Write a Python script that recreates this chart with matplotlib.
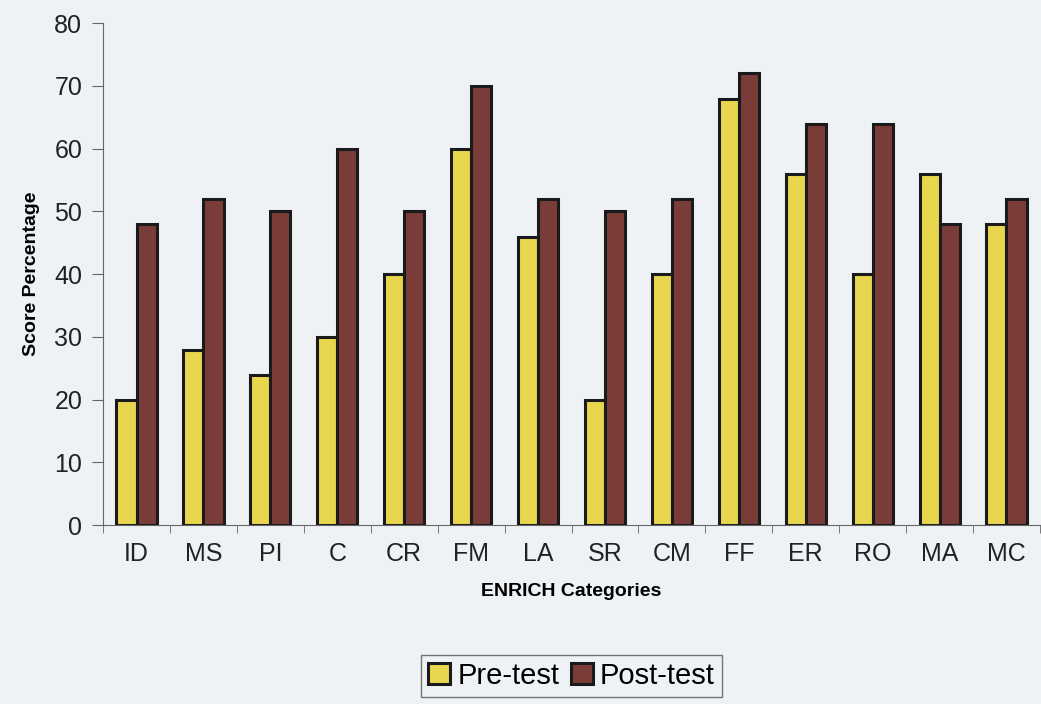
import matplotlib
matplotlib.use('Agg')
import matplotlib.pyplot as plt
import numpy as np

plt.rcParams['font.family'] = ['Liberation Sans', 'DejaVu Sans']

categories = ['ID', 'MS', 'PI', 'C', 'CR', 'FM', 'LA', 'SR', 'CM', 'FF', 'ER', 'RO', 'MA', 'MC']
pre_test = [20, 28, 24, 30, 40, 60, 46, 20, 40, 68, 56, 40, 56, 48]
post_test = [48, 52, 50, 60, 50, 70, 52, 50, 52, 72, 64, 64, 48, 52]

bg = '#eef2f5'
fig = plt.figure(figsize=(10.41, 7.04), dpi=100, facecolor=bg)
ax = fig.add_axes([0.099, 0.254, 0.9, 0.713], facecolor=bg)

x = np.arange(len(categories))
w = 0.3
ax.bar(x - w / 2, pre_test, w, color='#e8d64e', edgecolor='#1a1a1a', linewidth=2.2, label='Pre-test')
ax.bar(x + w / 2, post_test, w, color='#7a3c38', edgecolor='#1a1a1a', linewidth=2.2, label='Post-test')

ax.set_xlim(-0.5, len(categories) - 0.5)
ax.set_ylim(0, 80)
ax.set_yticks(np.arange(0, 81, 10))
ax.set_xticks(x)
ax.set_xticklabels(categories)
ax.set_xticks(np.arange(-0.5, len(categories), 1), minor=True)
ax.tick_params(axis='x', which='major', length=0, pad=12, labelsize=18, colors='#222222')
ax.tick_params(axis='x', which='minor', length=6, color='#666666')
ax.tick_params(axis='y', length=8, labelsize=18, colors='#222222', pad=7)
ax.tick_params(axis='y', color='#666666')

for s in ['top', 'right']:
    ax.spines[s].set_visible(False)
ax.spines['left'].set_color('#666666')
ax.spines['bottom'].set_color('#666666')

ax.set_ylabel('Score Percentage', fontsize=14, fontweight='bold', labelpad=10)
ax.set_xlabel('ENRICH Categories', fontsize=14, fontweight='bold', labelpad=12)

leg = fig.legend(loc='center', bbox_to_anchor=(0.549, 0.04), ncol=2, fontsize=21,
                 frameon=True, fancybox=False, edgecolor='#555555', facecolor=bg,
                 handlelength=0.75, handleheight=0.75, handletextpad=0.25, columnspacing=0.4,
                 borderpad=0.25)

fig.savefig('out.png', dpi=100, facecolor=bg)
